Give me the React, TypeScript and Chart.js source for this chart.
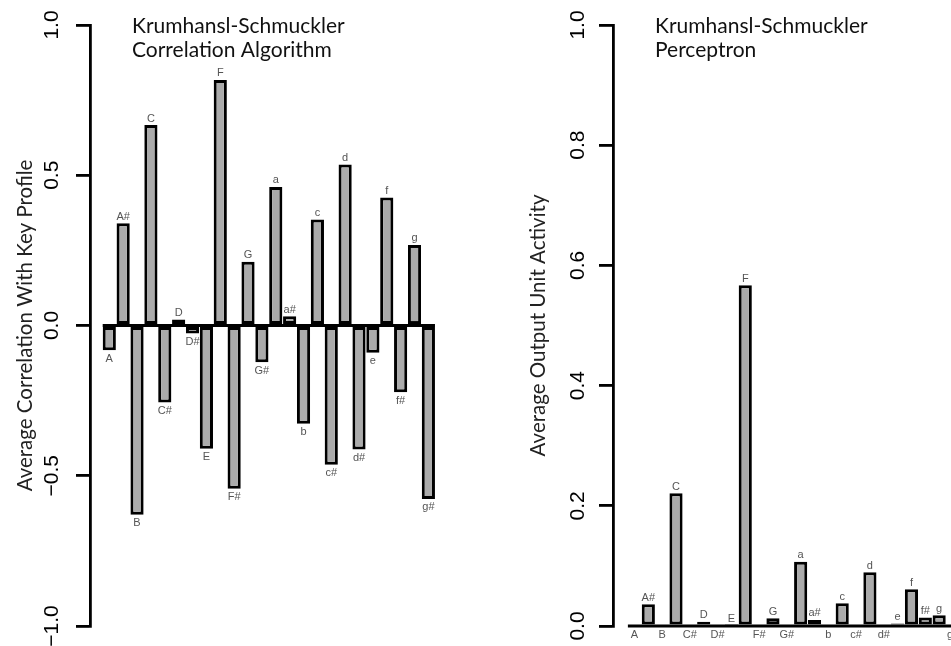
import { useEffect, useRef } from "react";
import { Chart, registerables } from "chart.js";

Chart.register(...registerables);

// ---- data ----
const keyNames = ["A", "A#", "B", "C", "C#", "D", "D#", "E", "F", "F#", "G", "G#", "a", "a#", "b", "c", "c#", "d", "d#", "e", "f", "f#", "g", "g#"];
const correlationValues = [-0.082, 0.34, -0.63, 0.667, -0.256, 0.02, -0.027, -0.41, 0.817, -0.543, 0.212, -0.122, 0.461, 0.031, -0.327, 0.353, -0.463, 0.536, -0.413, -0.091, 0.426, -0.222, 0.268, -0.577];
const perceptronValues = [0, 0.036, 0, 0.221, 0, 0.007, 0, 0.001, 0.567, 0, 0.013, 0, 0.107, 0.01, 0, 0.038, 0, 0.0895, 0, 0.004, 0.061, 0.014, 0.018, 0];
const correlationTicks = [-1, -0.5, 0, 0.5, 1];
const perceptronTicks = [0, 0.2, 0.4, 0.6, 0.8, 1];
const correlationTitle = ["Krumhansl-Schmuckler", "Correlation Algorithm"];
const perceptronTitle = ["Krumhansl-Schmuckler", "Perceptron"];
const correlationAxisLabel = "Average Correlation With Key Profile";
const perceptronAxisLabel = "Average Output Unit Activity";

type Panel = {
  values: number[];
  ticks: number[];
  title: string[];
  axisLabel: string;
  xMin: number;
  xMax: number;
  tickLabelOffset: number;
  axisLabelOffset: number;
};

const panels: Panel[] = [
  { values: correlationValues, ticks: correlationTicks, title: correlationTitle, axisLabel: correlationAxisLabel, xMin: -1.39, xMax: 26.0, tickLabelOffset: -38, axisLabelOffset: -58 },
  { values: perceptronValues, ticks: perceptronTicks, title: perceptronTitle, axisLabel: perceptronAxisLabel, xMin: -1.55, xMax: 26.61, tickLabelOffset: -35, axisLabelOffset: -68 },
];

const TITLE_FONT = "Lato, 'Open Sans', sans-serif";
const AXIS_FONT = "'Liberation Sans', Arial, sans-serif";

function fmt(v: number) {
  return v.toFixed(1).replace("-", "\u2212");
}

function makeDecor(panel: Panel) {
  return {
    id: "decor",
    afterDraw(chart: any) {
      const ctx = chart.ctx as CanvasRenderingContext2D;
      const area = chart.chartArea;
      const ys = chart.scales.y;
      const meta = chart.getDatasetMeta(0);
      const els = meta.data as any[];
      const y0 = ys.getPixelForValue(0);

      ctx.save();
      // zero baseline across the bars
      const first = els[0];
      const last = els[els.length - 1];
      ctx.strokeStyle = "#000";
      ctx.lineWidth = 2.8;
      ctx.beginPath();
      ctx.moveTo(first.x - first.width / 2, y0);
      ctx.lineTo(last.x + last.width / 2, y0);
      ctx.stroke();

      // bar labels
      ctx.fillStyle = "#555";
      ctx.font = `11px ${AXIS_FONT}`;
      ctx.textAlign = "center";
      ctx.textBaseline = "alphabetic";
      els.forEach((el, i) => {
        const v = panel.values[i];
        const name = keyNames[i];
        if (v > 0) {
          ctx.fillText(name, el.x, el.y - 3.5);
        } else {
          ctx.fillText(name, el.x, el.y + 11.5);
        }
      });

      // tick labels (rotated like R)
      ctx.fillStyle = "#000";
      ctx.font = `21px ${AXIS_FONT}`;
      ctx.textAlign = "center";
      ctx.textBaseline = "middle";
      ys.ticks.forEach((t: any) => {
        const y = ys.getPixelForValue(t.value);
        ctx.save();
        ctx.translate(area.left + panel.tickLabelOffset, y);
        ctx.rotate(-Math.PI / 2);
        ctx.fillText(fmt(t.value), 0, 0);
        ctx.restore();
      });

      // axis label
      ctx.fillStyle = "#222";
      ctx.font = `20.5px ${TITLE_FONT}`;
      ctx.textAlign = "center";
      ctx.textBaseline = "alphabetic";
      ctx.save();
      ctx.translate(area.left + panel.axisLabelOffset, (area.top + area.bottom) / 2);
      ctx.rotate(-Math.PI / 2);
      ctx.fillText(panel.axisLabel, 0, 0);
      ctx.restore();

      // plot title
      ctx.fillStyle = "#111";
      ctx.font = `21px ${TITLE_FONT}`;
      ctx.textAlign = "left";
      panel.title.forEach((line, i) => {
        ctx.fillText(line, area.left + 42, 33 + i * 24);
      });
      ctx.restore();
    },
  };
}

function BarPanel({ panel, left, width }: { panel: Panel; left: number; width: number }) {
  const ref = useRef<HTMLCanvasElement>(null);
  useEffect(() => {
    const yMin = panel.ticks[0];
    const yMax = panel.ticks[panel.ticks.length - 1];
    const chart = new Chart(ref.current as HTMLCanvasElement, {
      type: "bar",
      data: {
        datasets: [
          {
            data: panel.values.map((v, i) => ({ x: i, y: v })),
            backgroundColor: "#ababab",
            borderColor: "#000",
            borderWidth: 3,
            borderSkipped: false,
            barPercentage: 0.95,
            categoryPercentage: 1,
          } as any,
        ],
      },
      options: {
        responsive: false,
        animation: false,
        layout: { padding: { left: 0, top: 25, right: 0, bottom: 20 } },
        plugins: { legend: { display: false }, tooltip: { enabled: false }, title: { display: false } },
        scales: {
          x: {
            type: "linear",
            display: false,
            min: panel.xMin,
            max: panel.xMax,
            offset: false,
            afterBuildTicks: (s: any) => {
              s.ticks = keyNames.map((_, i) => ({ value: i }));
            },
          },
          y: {
            type: "linear",
            position: "left",
            min: yMin,
            max: yMax,
            afterBuildTicks: (s: any) => {
              s.ticks = panel.ticks.map((v) => ({ value: v }));
            },
            afterFit: (s: any) => {
              s.width = 90;
            },
            border: { display: true, color: "#000", width: 2.8 },
            grid: { display: true, drawOnChartArea: false, drawTicks: true, tickLength: 14, color: "#000", lineWidth: 2.8 },
            ticks: { display: false },
          },
        },
      } as any,
      plugins: [makeDecor(panel)],
    });
    return () => chart.destroy();
  }, [panel]);
  return (
    <div style={{ position: "absolute", left, top: 0, width, height: 646 }}>
      <canvas ref={ref} width={width} height={646} style={{ display: "block" }} />
    </div>
  );
}

export default function App() {
  return (
    <div style={{ position: "fixed", left: 0, top: 0, width: 951, height: 646, overflow: "hidden", background: "#fff" }}>
      <BarPanel panel={panels[0]} left={0} width={470} />
      <BarPanel panel={panels[1]} left={523} width={480} />
    </div>
  );
}
